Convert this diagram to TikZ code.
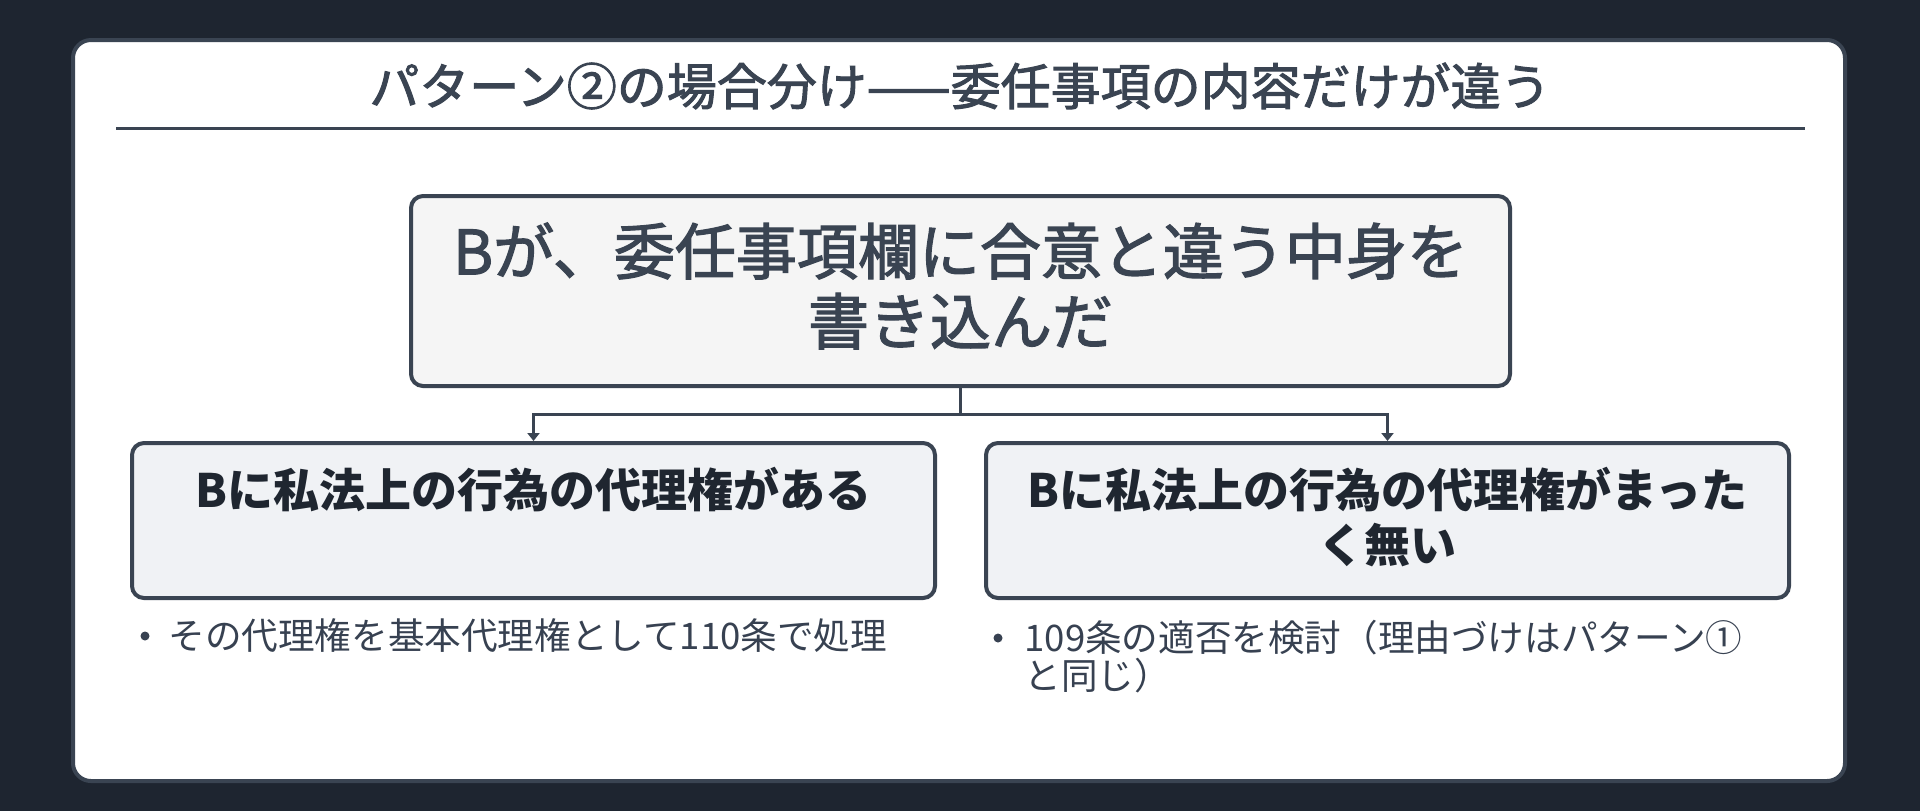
\documentclass[tikz,border=0pt]{standalone}
\usepackage{fontspec}
\setmainfont{Noto Sans CJK JP}
\newfontfamily\medfont[FakeBold=2]{Noto Sans CJK JP}
\usetikzlibrary{arrows.meta}
\definecolor{bgdark}{HTML}{1E2530}
\definecolor{edge}{HTML}{3A4452}
\definecolor{mainfill}{HTML}{F5F5F5}
\definecolor{childfill}{HTML}{F0F2F5}
\definecolor{inkdark}{HTML}{1F2630}
\definecolor{inkmid}{HTML}{374151}
\begin{document}
\begin{tikzpicture}[x=0.5pt,y=-0.5pt,
  mainbox/.style={draw=edge, fill=mainfill, line width=2pt, rounded corners=6pt,
    minimum width=549.5pt, minimum height=95pt, inner sep=0pt},
  childbox/.style={draw=edge, fill=childfill, line width=2pt, rounded corners=6pt,
    minimum width=401.5pt, minimum height=77.5pt, inner sep=0pt},
  maintext/.style={text=edge, align=center, inner sep=0pt, font=\medfont\fontsize{30.5}{35}\selectfont},
  childtext/.style={text=inkdark, align=center, inner sep=0pt, font=\bfseries\fontsize{23}{27.5}\selectfont},
  bullettext/.style={text=inkmid, align=left, inner sep=0pt, font=\fontsize{18.3}{19}\selectfont},
  bulletdot/.style={circle, fill=inkmid, inner sep=0pt, minimum size=4.5pt},
  conn/.style={draw=edge, line width=1.5pt, -{Triangle[length=4pt,width=6pt]}}
]
\fill[bgdark] (0,0) rectangle (1920,811);
\useasboundingbox (0,0) rectangle (1920,811);
% card
\draw[edge, fill=white, line width=2pt, rounded corners=9pt] (73,40) rectangle (1845,781);
% title
\node[text=edge, inner sep=0pt, font=\medfont\fontsize{25}{30}\selectfont] (title) at (960,86)
  {パターン②の場合分け——委任事項の内容だけが違う};
\draw[edge, line width=1.5pt] (116,128) -- (1805,128);
% main box
\node[mainbox] (main) at (960.5,291) {};
\node[maintext] (maintxt) at (960.5,286) {Bが、委任事項欄に合意と違う中身を\\書き込んだ};
% child boxes
\node[childbox] (left) at (533.5,520.5) {};
\node[childbox] (right) at (1387.5,520.5) {};
\node[childtext] (lefttxt) at (533.5,490) {Bに私法上の行為の代理権がある};
\node[childtext] (righttxt) at (1387.5,517.5) {Bに私法上の行為の代理権がまった\\く無い};
% connectors
\coordinate (bus) at (960.5,414);
\draw[conn] (main.south) -- (bus) -| (left.north);
\draw[conn] (main.south) -- (bus) -| (right.north);
% bullets
\node[bulletdot] (bl) at (145,636) {};
\node[bullettext, anchor=west] (bltxt) at (168,635.5) {その代理権を基本代理権として110条で処理};
\node[bulletdot] (br) at (998,638) {};
\node[bullettext, anchor=west] (brtxt) at (1024,657) {109条の適否を検討（理由づけはパターン①\\と同じ）};
\end{tikzpicture}
\end{document}
